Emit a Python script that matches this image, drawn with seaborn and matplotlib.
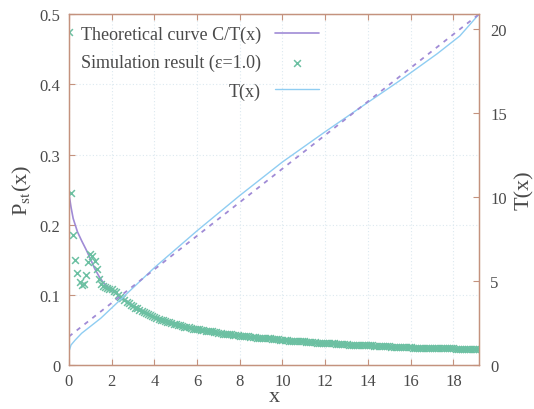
import matplotlib
matplotlib.use("Agg")
import matplotlib.pyplot as plt
import seaborn as sns

# simulation result (epsilon = 1.0), sampled every 0.1 in x
sim_x = [0.0, 0.1, 0.2, 0.3, 0.4, 0.5, 0.6, 0.7, 0.8, 0.9,
         1.0, 1.1, 1.2, 1.3, 1.4, 1.5, 1.6, 1.7, 1.8, 1.9,
         2.0, 2.1, 2.2, 2.3, 2.4, 2.5, 2.6, 2.7, 2.8, 2.9,
         3.0, 3.1, 3.2, 3.3, 3.4, 3.5, 3.6, 3.7, 3.8, 3.9,
         4.0, 4.1, 4.2, 4.3, 4.4, 4.5, 4.6, 4.7, 4.8, 4.9,
         5.0, 5.1, 5.2, 5.3, 5.4, 5.5, 5.6, 5.7, 5.8, 5.9,
         6.0, 6.1, 6.2, 6.3, 6.4, 6.5, 6.6, 6.7, 6.8, 6.9,
         7.0, 7.1, 7.2, 7.3, 7.4, 7.5, 7.6, 7.7, 7.8, 7.9,
         8.0, 8.1, 8.2, 8.3, 8.4, 8.5, 8.6, 8.7, 8.8, 8.9,
         9.0, 9.1, 9.2, 9.3, 9.4, 9.5, 9.6, 9.7, 9.8, 9.9,
         10.0, 10.1, 10.2, 10.3, 10.4, 10.5, 10.6, 10.7, 10.8, 10.9,
         11.0, 11.1, 11.2, 11.3, 11.4, 11.5, 11.6, 11.7, 11.8, 11.9,
         12.0, 12.1, 12.2, 12.3, 12.4, 12.5, 12.6, 12.7, 12.8, 12.9,
         13.0, 13.1, 13.2, 13.3, 13.4, 13.5, 13.6, 13.7, 13.8, 13.9,
         14.0, 14.1, 14.2, 14.3, 14.4, 14.5, 14.6, 14.7, 14.8, 14.9,
         15.0, 15.1, 15.2, 15.3, 15.4, 15.5, 15.6, 15.7, 15.8, 15.9,
         16.0, 16.1, 16.2, 16.3, 16.4, 16.5, 16.6, 16.7, 16.8, 16.9,
         17.0, 17.1, 17.2, 17.3, 17.4, 17.5, 17.6, 17.7, 17.8, 17.9,
         18.0, 18.1, 18.2, 18.3, 18.4, 18.5, 18.6, 18.7, 18.8, 18.9,
         19.0, 19.1, 19.2]
sim_p = [0.474, 0.245, 0.185, 0.150, 0.131, 0.119, 0.114, 0.116, 0.128, 0.147,
         0.159, 0.156, 0.148, 0.137, 0.123, 0.116, 0.113, 0.111, 0.110, 0.109,
         0.108, 0.106, 0.104, 0.100, 0.097, 0.095, 0.093, 0.090, 0.088, 0.086,
         0.084, 0.082, 0.081, 0.079, 0.077, 0.076, 0.074, 0.073, 0.071, 0.070,
         0.068, 0.067, 0.066, 0.065, 0.064, 0.063, 0.062, 0.061, 0.060, 0.059,
         0.058, 0.057, 0.057, 0.056, 0.055, 0.055, 0.054, 0.053, 0.052, 0.052,
         0.051, 0.051, 0.050, 0.050, 0.049, 0.049, 0.048, 0.048, 0.047, 0.047,
         0.046, 0.046, 0.045, 0.045, 0.044, 0.044, 0.044, 0.043, 0.043, 0.043,
         0.042, 0.042, 0.041, 0.041, 0.041, 0.040, 0.040, 0.040, 0.039, 0.039,
         0.039, 0.038, 0.038, 0.038, 0.038, 0.037, 0.037, 0.037, 0.037, 0.036,
         0.036, 0.036, 0.036, 0.035, 0.035, 0.035, 0.035, 0.034, 0.034, 0.034,
         0.034, 0.033, 0.033, 0.033, 0.033, 0.033, 0.032, 0.032, 0.032, 0.032,
         0.031, 0.031, 0.031, 0.031, 0.031, 0.030, 0.030, 0.030, 0.030, 0.030,
         0.030, 0.029, 0.029, 0.029, 0.029, 0.029, 0.029, 0.028, 0.028, 0.028,
         0.028, 0.028, 0.028, 0.027, 0.027, 0.027, 0.027, 0.027, 0.027, 0.027,
         0.027, 0.026, 0.026, 0.026, 0.026, 0.026, 0.026, 0.026, 0.026, 0.026,
         0.026, 0.025, 0.025, 0.025, 0.025, 0.025, 0.025, 0.025, 0.025, 0.025,
         0.025, 0.024, 0.024, 0.024, 0.024, 0.024, 0.024, 0.024, 0.024, 0.024,
         0.024, 0.023, 0.023, 0.023, 0.023, 0.023, 0.023, 0.023, 0.023, 0.023,
         0.023, 0.023, 0.023]

# theoretical curve C/T(x)
theo_x = [0.0, 0.1, 0.2, 0.4, 0.6, 0.8, 1.0, 1.2, 1.4, 1.6, 1.8, 2.0, 2.5, 3.0, 4.0, 5.0, 6.0,
          8.0, 10.0, 12.0, 14.0, 16.0, 18.0, 19.2]
theo_p = [0.245, 0.225, 0.209, 0.190, 0.177, 0.165, 0.152, 0.138, 0.127, 0.118, 0.112, 0.107, 0.096,
          0.085, 0.069, 0.059, 0.051, 0.042, 0.036, 0.031, 0.028, 0.026, 0.024, 0.023]

# T(x) from simulation
t_x = [0.0, 0.1, 0.3, 0.6, 1.0, 1.5, 2.0, 3.0, 4.0, 5.0, 6.0, 8.0, 10.0, 12.0, 13.6, 15.5,
       17.25, 18.3, 19.2]
t_val = [0.8, 1.2, 1.5, 1.9, 2.3, 2.8, 3.4, 4.6, 5.8, 6.9, 8.0, 10.1, 12.1, 13.9, 15.3, 16.95,
         18.55, 19.6, 20.9]

# linear reference (dashed)
lin_x = [0.0, 19.2]
lin_val = [1.7, 20.9]

x_ticks = [0, 2, 4, 6, 8, 10, 12, 14, 16, 18]
p_ticks = [0, 0.1, 0.2, 0.3, 0.4, 0.5]
p_labels = ["0", "0.1", "0.2", "0.3", "0.4", "0.5"]
t_ticks = [0, 5, 10, 15, 20]

sns.set_style("white")
plt.rcParams["font.family"] = ["Liberation Serif", "DejaVu Serif"]
plt.rcParams["mathtext.fontset"] = "stix"

spine_col = "#c4927e"
text_col = "#4a4a4a"
purple = "#a08bd6"
green = "#6cc0a2"
blue = "#8fcdf2"

fig = plt.figure(figsize=(5.34, 4.10), dpi=100)
ax = fig.add_axes([0.129, 0.107, 0.768, 0.856])
ax2 = ax.twinx()

sns.lineplot(x=theo_x, y=theo_p, ax=ax, color=purple, lw=1.2, label="Theoretical curve C/T(x)")
sns.scatterplot(x=sim_x, y=sim_p, ax=ax, marker="x", color=green, s=24, linewidth=1.1,
                label="Simulation result (ε=1.0)", zorder=3)
sns.lineplot(x=t_x, y=t_val, ax=ax2, color=blue, lw=1.0, label="T(x)")
sns.lineplot(x=lin_x, y=lin_val, ax=ax2, color=purple, lw=1.3, linestyle=(0, (2.5, 3)))

ax.set_xlim(0, 19.2)
ax.set_ylim(0, 0.5)
ax2.set_ylim(0, 20.9)
ax.set_xticks(x_ticks)
ax.set_yticks(p_ticks, p_labels)
ax2.set_yticks(t_ticks)

ax.grid(True, color="#dce9f0", linestyle=(0, (1, 2)), linewidth=0.8)
ax.set_axisbelow(True)

for a in (ax, ax2):
    for s in a.spines.values():
        s.set_color(spine_col)
        s.set_linewidth(0.9)
ax.tick_params(axis="x", direction="in", top=True, bottom=True, length=4, color=spine_col,
               labelsize=12, labelcolor=text_col, pad=6)
ax.tick_params(axis="y", direction="in", left=True, right=False, length=4, color=spine_col,
               labelsize=12, labelcolor=text_col, pad=6)
ax2.tick_params(axis="y", direction="in", right=True, length=4, color=spine_col,
                labelsize=12, labelcolor=text_col, pad=8)

ax.set_xlabel("x", fontsize=16, color=text_col, labelpad=-2)
ax.set_ylabel(r"P$_{\rm st}$(x)", fontsize=16, color=text_col, labelpad=4)
ax2.set_ylabel("T(x)", fontsize=16, color=text_col, labelpad=6)

h1, l1 = ax.get_legend_handles_labels()
h2, l2 = ax2.get_legend_handles_labels()
if ax2.get_legend():
    ax2.get_legend().remove()
leg = ax.legend(h1 + h2[:1], l1 + l2[:1], loc="upper left", frameon=False, markerfirst=False,
                fontsize=13, handlelength=2.4, labelspacing=0.6, borderaxespad=0.25)
for t in leg.get_texts():
    t.set_color(text_col)

fig.savefig("out.png", dpi=100)
